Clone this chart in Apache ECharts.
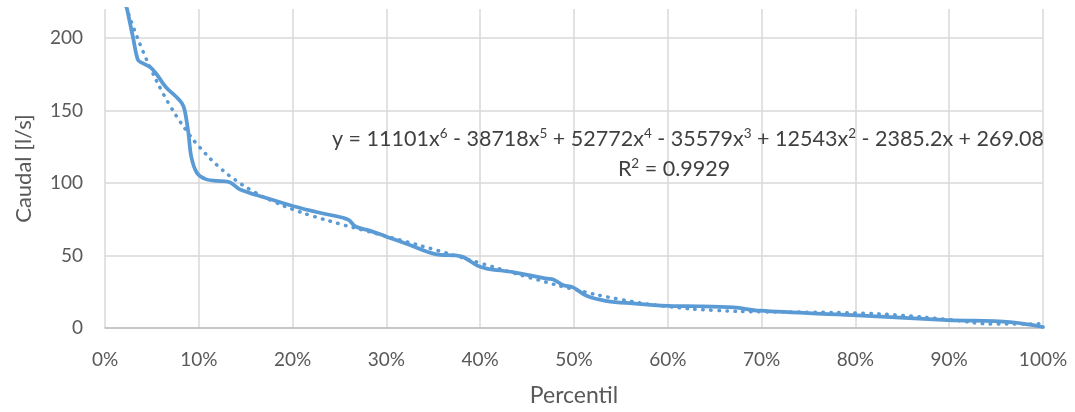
<!DOCTYPE html>
<html>
<head>
<meta charset="utf-8">
<script src="https://cdn.jsdelivr.net/npm/echarts@6/dist/echarts.min.js"></script>
<style>
html,body{margin:0;padding:0;background:#fff;}
#chart{width:1075px;height:412px;}
</style>
</head>
<body>
<div id="chart"></div>
<script>
// Flow duration curve (percentile as fraction, flow in l/s)
const percentil = [0.020,0.0235,0.030,0.035,0.039,0.048,0.055,0.065,0.075,0.082,0.085,0.089,0.092,0.098,0.108,0.120,0.133,0.144,0.172,0.201,0.229,0.254,0.260,0.267,0.283,0.300,0.322,0.352,0.375,0.382,0.397,0.407,0.435,0.471,0.478,0.488,0.499,0.514,0.535,0.563,0.606,0.634,0.670,0.698,0.797,0.898,0.965,1.000];
const caudal =    [231,220,200,185,183,180,175,166,160,155,150,134,118,107,102.5,101.5,100.5,95.5,89.7,84,79.5,76,74.5,70,67,63,58,51,50,49,43,41,38.5,34,33.5,29.6,28,22,18.6,17,15.1,15,14.2,11.9,8.9,5.5,4.1,0.7];

// Polynomial trendline values
const trendX = [0,0.01,0.02,0.025,0.03,0.04,0.05,0.06,0.07,0.08,0.09,0.10,0.12,0.14,0.16,0.18,0.20,0.22,0.25,0.28,0.30,0.32,0.35,0.38,0.40,0.43,0.45,0.46,0.50,0.55,0.60,0.65,0.70,0.75,0.80,0.85,0.90,0.95,1.00];
const trendY = [269.08,246.45,226.12,216.75,207.89,191.60,177.05,164.09,152.58,142.36,133.31,125.31,112.01,101.64,93.53,87.10,81.88,77.50,71.84,66.65,63.22,59.72,54.29,48.63,44.79,39.02,35.27,33.43,26.62,19.66,14.84,12.18,11.16,10.90,10.35,8.69,5.78,2.78,2.88];

const xTicks = [0,0.1,0.2,0.3,0.4,0.5,0.6,0.7,0.8,0.9,1.0];
const yTicks = [0,50,100,150,200];

const eqText = 'y = 11101x⁶ - 38718x⁵ + 52772x⁴ - 35579x³ + 12543x² - 2385.2x + 269.08';
const r2Text = 'R² = 0.9929';
const xTitle = 'Percentil';
const yTitle = 'Caudal [l/s]';

const FONT = 'Lato, "Open Sans", sans-serif';
const TXT = '#595959';

const SUP = {'²':'2','³':'3','⁴':'4','⁵':'5','⁶':'6'};
function toRich(s){
  return s.split(/([²³⁴⁵⁶])/).filter(t=>t!=='').map(t=>SUP[t] ? '{s|'+SUP[t]+'}' : '{n|'+t+'}').join('');
}
const richStyle = {
  n:{fontSize:21.5, fontFamily:FONT, fill:'#404040', color:'#404040', verticalAlign:'middle', lineHeight:26},
  s:{fontSize:13.5, fontFamily:FONT, fill:'#404040', color:'#404040', verticalAlign:'top', lineHeight:26, padding:[1,0,0,0]}
};

const chart = echarts.init(document.getElementById('chart'), null, {renderer:'canvas'});
chart.setOption({
  animation:false,
  backgroundColor:'#ffffff',
  grid:{left:105, right:32, top:9, bottom:83, containLabel:false},
  xAxis:{
    type:'value', min:xTicks[0], max:xTicks[xTicks.length-1], interval:0.1,
    name:xTitle, nameLocation:'middle', nameGap:56,
    nameTextStyle:{color:TXT, fontSize:23, fontFamily:FONT},
    axisLine:{show:true, lineStyle:{color:'#bfbfbf', width:1.5}},
    axisTick:{show:false},
    axisLabel:{color:TXT, fontSize:19, fontFamily:FONT, margin:22,
      formatter:v=>Math.round(v*100)+'%'},
    splitLine:{show:true, lineStyle:{color:'#d9d9d9', width:1.5}}
  },
  yAxis:{
    type:'value', min:0, max:220, interval:50,
    name:yTitle, nameLocation:'middle', nameGap:70,
    nameTextStyle:{color:TXT, fontSize:22, fontFamily:FONT},
    axisLine:{show:false},
    axisTick:{show:false},
    axisLabel:{color:TXT, fontSize:19, fontFamily:FONT, margin:22,
      formatter:v=>yTicks.indexOf(v)>=0 ? String(v) : ''},
    splitLine:{show:true, lineStyle:{width:1.5,
      color:['#d9d9d9','#d9d9d9','#d9d9d9','#d9d9d9','#d9d9d9','rgba(0,0,0,0)']}}
  },
  series:[
    {
      type:'line', name:'Caudal',
      data:percentil.map((p,i)=>[p,caudal[i]]),
      showSymbol:false, smooth:0.35,
      lineStyle:{color:'#5B9BD5', width:3.75, cap:'round', join:'round'},
      z:2
    },
    {
      type:'line', name:'Tendencia',
      data:trendX.map((p,i)=>[p,trendY[i]]),
      showSymbol:false, smooth:0.5,
      lineStyle:{color:'#5B9BD5', width:3.5, type:[0.5,7.5], cap:'round'},
      z:3
    }
  ],
  graphic:[
    {type:'text', x:688, y:139, z:100,
     style:{text:toRich(eqText), rich:richStyle, align:'center', verticalAlign:'middle', textAlign:'center', textVerticalAlign:'middle',
            fill:'#404040', fontSize:21.5, fontFamily:FONT}},
    {type:'text', x:674, y:169, z:100,
     style:{text:toRich(r2Text), rich:richStyle, align:'center', verticalAlign:'middle', textAlign:'center', textVerticalAlign:'middle',
            fill:'#404040', fontSize:21.5, fontFamily:FONT}}
  ]
});
</script>
</body>
</html>
